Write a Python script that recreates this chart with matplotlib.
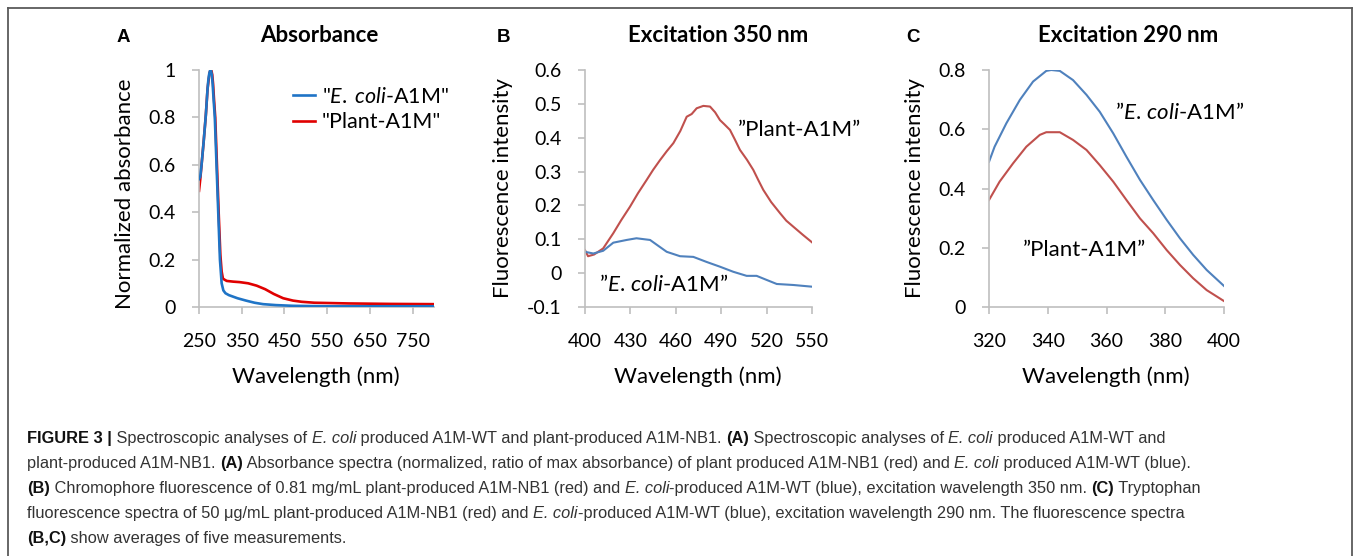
import matplotlib
matplotlib.use("Agg")
import matplotlib.pyplot as plt
from matplotlib.lines import Line2D

# ---- data ----
# A: normalized absorbance
abs_wl_ecoli = [250, 253, 256, 261, 266, 270, 272, 274, 276, 277, 278, 280, 282, 284, 287, 291, 295, 299,
                303, 307, 312, 320, 340, 360, 380, 400, 430, 470, 550, 650, 800]
abs_ecoli = [0.54, 0.55, 0.60, 0.70, 0.81, 0.92, 0.96, 0.985, 0.998, 1.00, 0.997, 0.98, 0.94, 0.88, 0.80,
             0.60, 0.40, 0.20, 0.10, 0.07, 0.058, 0.05, 0.037, 0.027, 0.018, 0.012, 0.008, 0.005, 0.003,
             0.003, 0.003]
abs_wl_plant = [250, 253, 256, 261, 266, 270, 273, 275, 277, 278, 279, 281, 283, 285, 288, 292, 296, 300,
                303, 306, 310, 315, 330, 345, 365, 385, 405, 425, 447, 470, 490, 520, 600, 700, 800]
abs_plant = [0.49, 0.54, 0.60, 0.70, 0.81, 0.92, 0.965, 0.99, 0.999, 1.00, 0.997, 0.98, 0.94, 0.88, 0.80,
             0.60, 0.40, 0.22, 0.15, 0.12, 0.115, 0.11, 0.107, 0.105, 0.10, 0.09, 0.075, 0.055, 0.037,
             0.027, 0.022, 0.018, 0.015, 0.013, 0.012]

# B: excitation 350 nm
exb_wl_plant = [400, 402, 406, 412, 418.7, 424, 429.7, 435, 440.7, 445, 449.6, 454, 458.4, 463, 467.2,
                470.5, 473.8, 478.2, 482.6, 486, 489.2, 492, 495.8, 499, 502.4, 507, 511.2, 514.5,
                517.8, 523, 528.9, 533, 537.7, 544, 550]
exb_plant = [0.068, 0.05, 0.055, 0.073, 0.118, 0.157, 0.196, 0.236, 0.275, 0.305, 0.334, 0.36, 0.384,
             0.42, 0.462, 0.47, 0.487, 0.494, 0.492, 0.475, 0.452, 0.44, 0.423, 0.395, 0.364, 0.335,
             0.305, 0.275, 0.246, 0.21, 0.177, 0.155, 0.137, 0.113, 0.091]
exb_wl_ecoli = [400, 405.5, 412, 418.7, 427.5, 434, 443, 448, 454, 462.8, 471.6, 480.4, 489.2, 498,
                506.8, 513.4, 520, 526.7, 537.7, 550]
exb_ecoli = [0.063, 0.058, 0.066, 0.09, 0.098, 0.103, 0.098, 0.082, 0.063, 0.05, 0.048, 0.033, 0.019,
             0.004, -0.008, -0.008, -0.02, -0.032, -0.035, -0.04]

# C: excitation 290 nm
exc_wl = [320, 321.9, 325.9, 330.5, 335, 339.5, 341.2, 344.1, 348.6, 353.2, 357.7, 362.3, 366.8, 371.4,
          375.9, 380.5, 385, 389.5, 394.1, 400]
exc_ecoli = [0.49, 0.541, 0.62, 0.699, 0.761, 0.797, 0.80, 0.797, 0.766, 0.716, 0.659, 0.586, 0.507,
             0.429, 0.361, 0.294, 0.232, 0.176, 0.125, 0.071]
exc_wl_plant = [320, 323.6, 328.2, 332.7, 337.3, 339.5, 344.1, 348.6, 353.2, 357.7, 362.3, 366.8, 371.4,
                375.9, 380.5, 385, 389.5, 394.1, 400]
exc_plant = [0.361, 0.423, 0.485, 0.541, 0.581, 0.59, 0.59, 0.564, 0.53, 0.479, 0.423, 0.361, 0.299,
             0.249, 0.192, 0.142, 0.097, 0.057, 0.02]

caption = [
    [("FIGURE 3 |", "b"), (" Spectroscopic analyses of ", "n"), ("E. coli", "i"),
     (" produced A1M-WT and plant-produced A1M-NB1. ", "n"), ("(A)", "b"),
     (" Spectroscopic analyses of ", "n"), ("E. coli", "i"), (" produced A1M-WT and", "n")],
    [("plant-produced A1M-NB1. ", "n"), ("(A)", "b"),
     (" Absorbance spectra (normalized, ratio of max absorbance) of plant produced A1M-NB1 (red) and ", "n"),
     ("E. coli", "i"), (" produced A1M-WT (blue).", "n")],
    [("(B)", "b"), (" Chromophore fluorescence of 0.81 mg/mL plant-produced A1M-NB1 (red) and ", "n"),
     ("E. coli", "i"), ("-produced A1M-WT (blue), excitation wavelength 350 nm. ", "n"), ("(C)", "b"),
     (" Tryptophan", "n")],
    [("fluorescence spectra of 50 \u03bcg/mL plant-produced A1M-NB1 (red) and ", "n"), ("E. coli", "i"),
     ("-produced A1M-WT (blue), excitation wavelength 290 nm. The fluorescence spectra", "n")],
    [("(B,C)", "b"), (" show averages of five measurements.", "n")],
]

plt.rcParams['font.family'] = ['Lato', 'DejaVu Sans']
plt.rcParams['mathtext.fontset'] = 'custom'
plt.rcParams['mathtext.rm'] = 'Lato'
plt.rcParams['mathtext.it'] = 'Lato:italic'
plt.rcParams['mathtext.bf'] = 'Lato:bold'

W, H = 1357, 556
fig = plt.figure(figsize=(W / 100, H / 100), dpi=100)

AXC = '#BFBFBF'


def px_axes(x0, x1, ytop=70, ybot=307):
    return fig.add_axes([x0 / W, 1 - ybot / H, (x1 - x0) / W, (ybot - ytop) / H])


def style(ax):
    for s in ['top', 'right']:
        ax.spines[s].set_visible(False)
    for s in ['left', 'bottom']:
        ax.spines[s].set_color(AXC)
        ax.spines[s].set_linewidth(1.2)
    ax.tick_params(direction='out', length=5, width=1.2, color=AXC, labelsize=14)
    ax.tick_params(axis='x', pad=14)
    ax.tick_params(axis='y', pad=12)


def fmt(vals):
    return ['%g' % round(v, 2) for v in vals]


lab_kw = dict(fontsize=16)
ecoli_lab = '\u201d' + r'$\mathit{E.\,coli}$' + '-A1M\u201d'

# ---- A ----
axA = px_axes(199, 434)
axA.plot(abs_wl_ecoli, abs_ecoli, color='#1F74C6', lw=1.9, label='"' + r'$\mathit{E.\;coli}$' + '-A1M"',
         zorder=3)
axA.plot(abs_wl_plant, abs_plant, color='#E00000', lw=1.9, label='"Plant-A1M"', zorder=2)
axA.set_xlim(250, 800)
axA.set_ylim(0, 1)
xt = [250, 350, 450, 550, 650, 750]
axA.set_xticks(xt, fmt(xt))
yt = [0, 0.2, 0.4, 0.6, 0.8, 1]
axA.set_yticks(yt, fmt(yt))
style(axA)
axA.legend(loc='upper left', bbox_to_anchor=(293 / W, 1 - 87 / H), bbox_transform=fig.transFigure,
           frameon=False, fontsize=15.5, handlelength=1.0, handletextpad=0.35, labelspacing=0.25,
           borderpad=0, borderaxespad=0)

# ---- B ----
axB = px_axes(585, 812)
axB.plot(exb_wl_plant, exb_plant, color='#C0504D', lw=1.5)
axB.plot(exb_wl_ecoli, exb_ecoli, color='#4F81BD', lw=1.5)
axB.set_xlim(400, 550)
axB.set_ylim(-0.1, 0.6)
xt = [400, 430, 460, 490, 520, 550]
axB.set_xticks(xt, fmt(xt))
yt = [-0.1, 0, 0.1, 0.2, 0.3, 0.4, 0.5, 0.6]
axB.set_yticks(yt, fmt(yt))
style(axB)
axB.text(501, 0.423, '\u201dPlant-A1M\u201d', va='center', ha='left', **lab_kw)
axB.text(409.3, -0.035, ecoli_lab, va='center', ha='left', **lab_kw)

# ---- C ----
axC = px_axes(989, 1224)
axC.plot(exc_wl, exc_ecoli, color='#4F81BD', lw=1.5)
axC.plot(exc_wl_plant, exc_plant, color='#C0504D', lw=1.5)
axC.set_xlim(320, 400)
axC.set_ylim(0, 0.8)
xt = [320, 340, 360, 380, 400]
axC.set_xticks(xt, fmt(xt))
yt = [0, 0.2, 0.4, 0.6, 0.8]
axC.set_yticks(yt, fmt(yt))
style(axC)
axC.text(362.9, 0.658, ecoli_lab, va='center', ha='left', **lab_kw)
axC.text(331.6, 0.192, '\u201dPlant-A1M\u201d', va='center', ha='left', **lab_kw)

# titles, panel letters, axis labels
for ax, title, letter, tx, lx, ylab, ylx, yly, xlx in [
        (axA, 'Absorbance', 'A', 319, 117, 'Normalized absorbance', 125, 194, 316),
        (axB, 'Excitation 350 nm', 'B', 718, 497, 'Fluorescence intensity', 503, 188, 698),
        (axC, 'Excitation 290 nm', 'C', 1128, 906, 'Fluorescence intensity', 915, 188, 1106)]:
    fig.text(tx / W, 1 - 35 / H, title, fontsize=16, fontweight='bold', ha='center', va='center')
    fig.text(lx / W, 1 - 37 / H, letter, fontsize=13.5, fontweight='bold', ha='left', va='center',
             family=['Liberation Sans', 'DejaVu Sans'])
    ax.set_ylabel(ylab, fontsize=16, va='center')
    ax.yaxis.set_label_coords(ylx / W, 1 - yly / H, transform=fig.transFigure)
    ax.set_xlabel('Wavelength (nm)', fontsize=16, va='center')
    ax.xaxis.set_label_coords(xlx / W, 1 - 377 / H, transform=fig.transFigure)

# frame around the figure
bc = '#5A5A5A'
for xs, ys in [((8, 8), (8, 560)), ((8, 1352), (8, 8)), ((1352, 1352), (8, 560))]:
    fig.add_artist(Line2D([x / W for x in xs], [1 - y / H for y in ys], color=bc, lw=1.3))

# caption, built piece by piece so bold / italic runs follow each other
cap_ax = fig.add_axes([0, 0, 1, 1])
cap_ax.axis('off')
cap_font = ['Liberation Sans', 'DejaVu Sans']
for i, parts in enumerate(caption):
    ybase = 1 - (438 + 25 * i + 8) / H
    prev = None
    for txt, st in parts:
        kw = dict(fontsize=11.75, family=cap_font, color='#333333', ha='left', va='bottom')
        if st == 'b':
            kw['fontweight'] = 'bold'
            kw['color'] = '#111111'
        if st == 'i':
            kw['fontstyle'] = 'italic'
        if prev is None:
            prev = cap_ax.text(27 / W, ybase, txt, transform=cap_ax.transAxes, **kw)
        else:
            prev = cap_ax.annotate(txt, xy=(1, 0), xycoords=prev, **kw)

fig.savefig('out.png', dpi=100)
